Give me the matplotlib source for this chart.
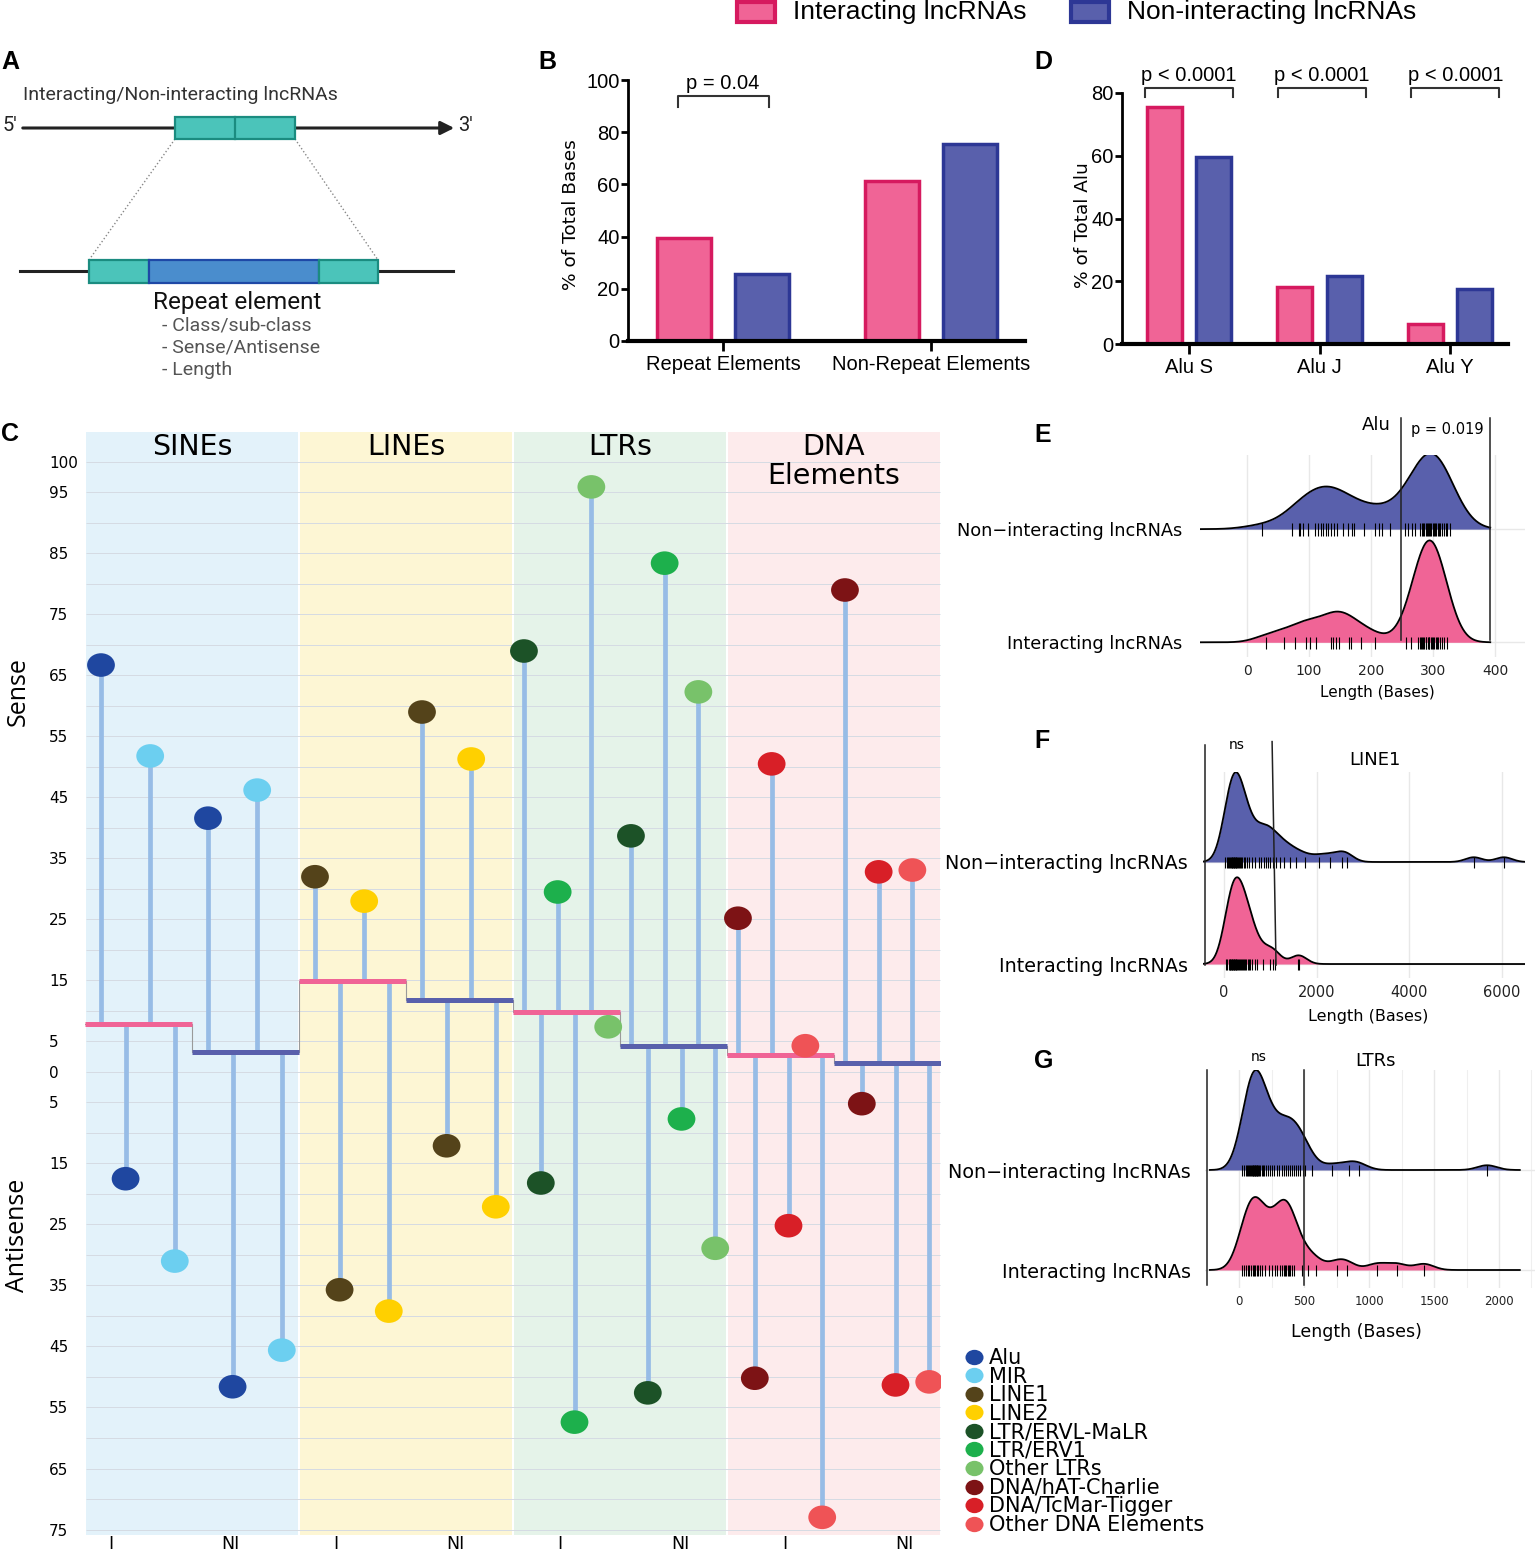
import numpy as np
import matplotlib
matplotlib.use("Agg")
import matplotlib.pyplot as plt
from matplotlib.patches import Rectangle
from matplotlib.lines import Line2D
from matplotlib.path import Path
from matplotlib.transforms import Affine2D

# ---------------- data ----------------
GROUPS = ["Interacting lncRNAs", "Non-interacting lncRNAs"]

B_CATS = ["Repeat Elements", "Non-Repeat Elements"]
B_INTER = [39.5, 61.3]
B_NONINTER = [25.7, 75.5]
B_PVAL = "p = 0.04"

D_CATS = ["Alu S", "Alu J", "Alu Y"]
D_INTER = [75.5, 18.2, 6.4]
D_NONINTER = [59.6, 21.7, 17.5]
D_PVALS = ["p < 0.0001", "p < 0.0001", "p < 0.0001"]

C_CLASSES = ["SINEs", "LINEs", "LTRs", "DNA\nElements"]
C_TYPES = [["Alu", "MIR"], ["LINE1", "LINE2"],
           ["LTR/ERVL-MaLR", "LTR/ERV1", "Other LTRs"],
           ["DNA/hAT-Charlie", "DNA/TcMar-Tigger", "Other DNA Elements"]]
C_TYPE_COLORS = [["#1f47a0", "#6ccff0"], ["#54431a", "#ffd000"],
                 ["#1c5227", "#1db04c", "#78c26a"],
                 ["#7d1315", "#d81f27", "#ef5356"]]
C_BASE_I = [7.9, 14.9, 9.8, 2.8]
C_BASE_NI = [3.3, 11.8, 4.3, 1.5]
C_SENSE_I = [[66.7, 51.8], [32.0, 28.0], [69.0, 29.5, 95.9], [25.2, 50.5, 4.3]]
C_ANTI_I = [[-17.5, -31.0], [-35.7, -39.2], [-18.2, -57.4, 7.4], [-50.2, -25.2, -73.0]]
C_SENSE_NI = [[41.6, 46.2], [59.0, 51.3], [38.7, 83.4, 62.3], [79.0, 32.8, 33.1]]
C_ANTI_NI = [[-51.6, -45.6], [-12.1, -22.1], [-52.6, -7.7, -28.9], [-5.2, -51.3, -50.8]]
C_TICKS = [100, 95, 85, 75, 65, 55, 45, 35, 25, 15, 5, 0,
           -5, -15, -25, -35, -45, -55, -65, -75]

# rug values (lengths in bases) for ridge plots
E_INTER = [31, 60, 77, 95, 102, 111, 135, 138, 143, 149, 164, 168, 184, 206,
           257, 265, 276, 278, 280, 282, 284, 286, 288, 289, 291, 293, 294, 296,
           298, 300, 302, 304, 306, 308, 311, 314, 318, 322]
E_NONINTER = [24, 72, 83, 85, 90, 98, 109, 115, 119, 123, 127, 131, 135, 140,
              145, 155, 163, 169, 172, 188, 207, 212, 217, 231, 255, 260, 266,
              271, 279, 282, 284, 286, 288, 290, 291, 293, 295, 297, 299, 301,
              303, 305, 307, 309, 311, 314, 317, 320, 323, 327]
F_INTER = [40, 70, 100, 120, 135, 150, 165, 180, 195, 210, 225, 240, 255, 270,
           290, 310, 330, 350, 370, 390, 410, 435, 460, 485, 510, 540, 570, 610,
           660, 720, 850, 1000, 1050, 1100, 1600, 1630]
F_NONINTER = [30, 60, 90, 110, 130, 150, 165, 180, 195, 210, 225, 240, 255, 270,
              290, 310, 330, 350, 375, 400, 430, 460, 500, 550, 610, 680, 750,
              810, 860, 900, 950, 1000, 1060, 1130, 1220, 1300, 1420, 1550, 1750,
              2050, 2300, 2550, 2650, 5400, 6050]
G_INTER = [20, 35, 50, 65, 80, 95, 105, 115, 125, 135, 145, 160, 175, 200, 230,
           255, 275, 295, 315, 330, 345, 355, 365, 375, 385, 395, 405, 420,
           482, 533, 590, 751, 828, 1059, 1213, 1423]
G_NONINTER = [20, 35, 50, 60, 70, 80, 88, 95, 100, 105, 110, 115, 120, 125, 130,
              135, 140, 148, 156, 165, 175, 185, 195, 210, 225, 240, 255, 270,
              290, 310, 330, 345, 360, 375, 390, 405, 420, 435, 450, 470, 490,
              508, 559, 717, 846, 923, 1908]

# ---------------- style ----------------
PINK, PINK_EDGE = "#f06496", "#d61a5f"
BLUE, BLUE_EDGE = "#5960ac", "#2d3795"
STEM = "#97bce6"
BAND_COLORS = ["#e3f2fa", "#fdf6d4", "#e5f3e9", "#fdebec"]
NARROW = "Liberation Sans"

W, H = 1540, 1552
fig = plt.figure(figsize=(W / 100, H / 100), dpi=100)


def add_box(x0, y0, x1, y1):
    return fig.add_axes([x0 / W, 1 - y1 / H, (x1 - x0) / W, (y1 - y0) / H])


def ftext(x, y, s, **kw):
    return fig.text(x / W, 1 - y / H, s, **kw)


# ---------------- top legend ----------------
for x0, fc, ec, label in [(737, PINK, PINK_EDGE, GROUPS[0]), (1071, BLUE, BLUE_EDGE, GROUPS[1])]:
    fig.add_artist(Rectangle((x0 / W, 1 - 22 / H), 38 / W, 20 / H, facecolor=fc,
                             edgecolor=ec, lw=3, transform=fig.transFigure))
    ftext(x0 + 56, 12, label, fontsize=19, family=NARROW, va="center", ha="left")

# ---------------- panel letters ----------------
for lab, x, y in [("A", 1, 62), ("B", 538, 62), ("C", 1, 434), ("D", 1034, 62),
                  ("E", 1034, 435), ("F", 1034, 741), ("G", 1034, 1061)]:
    ftext(x, y, lab, fontsize=18, fontweight="bold", family="Liberation Sans",
          va="center", ha="left")

# ---------------- panel A (schematic) ----------------
axa = add_box(0, 40, 520, 400)
axa.set_xlim(0, 520)
axa.set_ylim(400, 40)
axa.axis("off")
axa.text(23, 95, "Interacting/Non-interacting lncRNAs", family="Roboto",
         fontsize=14, color="#333333", va="center")
axa.annotate("", xy=(457, 128), xytext=(20, 128),
             arrowprops=dict(arrowstyle="-|>", lw=2.2, color="#222222", mutation_scale=20))
axa.text(3, 126, "5'", family="Roboto", fontsize=14.5, va="center", color="#222222")
axa.text(458, 126, "3'", family="Roboto", fontsize=14.5, va="center", color="#222222")
axa.add_patch(Rectangle((175, 117), 120, 22, fc="#4bc4ba", ec="#1b8c80", lw=1.6, zorder=3))
axa.plot([235, 235], [117, 139], color="#1b8c80", lw=1.6, zorder=4)
axa.plot([175, 89], [139, 260], color="#888888", lw=1, ls=":")
axa.plot([295, 378], [139, 260], color="#888888", lw=1, ls=":")
axa.plot([20, 453], [271, 271], color="#222222", lw=2.2)
axa.add_patch(Rectangle((89, 260), 60, 23, fc="#4bc4ba", ec="#1b8c80", lw=1.6, zorder=3))
axa.add_patch(Rectangle((149, 260), 170, 23, fc="#4a8dcd", ec="#1e48a6", lw=1.6, zorder=3))
axa.add_patch(Rectangle((319, 260), 59, 23, fc="#4bc4ba", ec="#1b8c80", lw=1.6, zorder=3))
axa.text(237, 302, "Repeat element", family="Roboto", fontsize=17.5, ha="center",
         va="center", color="#111111")
for i, s in enumerate(["- Class/sub-class", "- Sense/Antisense", "- Length"]):
    axa.text(162, 326 + 22 * i, s, family="Roboto", fontsize=14, color="#555555", va="center")


# ---------------- bar panels B and D ----------------
def bar_panel(ax, cats, inter, noninter, off, width, ymax, yticks):
    x = np.arange(len(cats))
    ax.bar(x - off, inter, width, color=PINK, edgecolor=PINK_EDGE, lw=2.5, zorder=2)
    ax.bar(x + off, noninter, width, color=BLUE, edgecolor=BLUE_EDGE, lw=2.5, zorder=2)
    ax.set_ylim(0, ymax)
    ax.set_yticks(yticks)
    ax.set_xticks(x)
    ax.set_xticklabels(cats, family=NARROW, fontsize=14.5)
    for lab in ax.get_yticklabels():
        lab.set_family(NARROW)
        lab.set_fontsize(14.5)
    for s in ["top", "right"]:
        ax.spines[s].set_visible(False)
    ax.spines["left"].set_linewidth(2)
    ax.spines["bottom"].set_linewidth(3)
    ax.tick_params(axis="y", length=5, width=2, pad=1)
    ax.tick_params(axis="x", length=7, width=2, pad=3)
    return x


axb = add_box(628, 80, 1025, 341)
bar_panel(axb, B_CATS, B_INTER, B_NONINTER, 0.189, 0.26, 100, [0, 20, 40, 60, 80, 100])
axb.set_xlim(-0.456, 1.452)
axb.plot([-0.215, -0.215, 0.222, 0.222], [89.7, 93.9, 93.9, 89.7], color="#333333",
         lw=1.5, clip_on=False)
axb.text(0.0, 98.5, B_PVAL, ha="center", va="center", family=NARROW, fontsize=14.5)
ftext(571, 215, "% of Total Bases", rotation=90, fontsize=13.3, ha="center", va="center")

axd = add_box(1122, 93, 1508, 344)
xd = bar_panel(axd, D_CATS, D_INTER, D_NONINTER, 0.188, 0.268, 80, [0, 20, 40, 60, 80])
axd.set_xlim(-0.513, 2.444)
for xi, p in zip(xd, D_PVALS):
    c = xi + 0.02 * xi
    axd.plot([c - 0.337, c - 0.337, c + 0.337, c + 0.337], [78.7, 81.6, 81.6, 78.7],
             color="#333333", lw=1.5, clip_on=False)
    axd.text(c, 85.6, p, ha="center", va="center", family=NARROW, fontsize=14.5, clip_on=False)
ftext(1083, 225, "% of Total Alu", rotation=90, fontsize=13.3, ha="center", va="center")

# ---------------- panel C (lollipops) ----------------
ELLIPSE = Path.unit_circle().transformed(Affine2D().scale(1.0, 0.85))
axc = add_box(85, 432, 941, 1535)
axc.set_xlim(0, 4)
axc.set_ylim(-75.9, 104.9)
for k in range(4):
    axc.axvspan(k + 0.007, k + 1 - 0.007, color=BAND_COLORS[k], lw=0, zorder=0)
axc.hlines(np.arange(-75, 101, 5), 0.007, 3.993, color="#d5dbe3", lw=0.7, zorder=1)

step_x, step_y = [], []
for k in range(4):
    for h, base in enumerate([C_BASE_I[k], C_BASE_NI[k]]):
        step_x += [k + 0.5 * h, k + 0.5 * h + 0.5]
        step_y += [base, base]
axc.plot(step_x, step_y, color="#9a9a9a", lw=0.8, zorder=2)

for k in range(4):
    halves = [(C_BASE_I[k], C_SENSE_I[k], C_ANTI_I[k], PINK),
              (C_BASE_NI[k], C_SENSE_NI[k], C_ANTI_NI[k], BLUE)]
    for h, (base, sense, anti, lc) in enumerate(halves):
        x0 = k + 0.5 * h
        tips = [v for pair in zip(sense, anti) for v in pair]
        cols = [c for c in C_TYPE_COLORS[k] for _ in (0, 1)]
        n = len(tips)
        xs = x0 + 0.5 * (np.arange(n) + 0.65) / (n + 0.35)
        axc.vlines(xs, base, tips, color=STEM, lw=3.4, zorder=3)
        axc.hlines(base, x0, x0 + 0.5, color=lc, lw=3.6, zorder=4)
        axc.scatter(xs, tips, marker=ELLIPSE, s=400, c=cols, lw=0, zorder=5)
    axc.text(k + 0.5, 102.5 if k < 3 else 100.1, C_CLASSES[k], ha="center", va="center",
             fontsize=20.5, linespacing=1.02)

axc.set_yticks(C_TICKS)
axc.set_yticklabels([str(abs(t)) for t in C_TICKS], ha="left", fontsize=11)
axc.tick_params(axis="y", length=0, pad=26)
xt = []
for k in range(4):
    xt += [0.12 + 1.05 * k, 0.68 + 1.05 * k]
axc.set_xticks(xt)
axc.set_xticklabels(["I", "NI"] * 4, fontsize=12.5)
axc.tick_params(axis="x", length=0, pad=0)
for s in axc.spines.values():
    s.set_visible(False)
ftext(18, 692, "Sense", rotation=90, fontsize=18, ha="center", va="center", family="Open Sans")
ftext(18, 1235, "Antisense", rotation=90, fontsize=18, ha="center", va="center", family="Open Sans")

handles = [Line2D([], [], marker=ELLIPSE, ls="", markersize=13, color=c, mew=0)
           for cl in C_TYPE_COLORS for c in cl]
labels = [t for tl in C_TYPES for t in tl]
fig.legend(handles, labels, loc="upper left", bbox_to_anchor=(964 / W, 1 - 1348 / H),
           frameon=False, fontsize=15, labelspacing=-0.07, handletextpad=0.2,
           handlelength=1.0, borderpad=0, borderaxespad=0)


# ---------------- ridge panels E, F, G ----------------
def ridge_panel(ax, inter, noninter, grid, bws, heights, xticks, xlim, ylim, tsize, ysize, ypad):
    for base, vals, color, bw, hgt in [(1, noninter, BLUE, bws[1], heights[1]),
                                       (0, inter, PINK, bws[0], heights[0])]:
        v = np.asarray(vals, float)
        dens = np.exp(-0.5 * ((grid[:, None] - v[None, :]) / bw) ** 2).sum(axis=1)
        y = base + hgt * dens / dens.max()
        ax.fill_between(grid, base, y, color=color, lw=0, zorder=2)
        ax.plot(grid, y, color="black", lw=1.3, zorder=3)
        ax.vlines(v, base - 0.06, base + 0.05, color="black", lw=0.8, zorder=4)
    ax.set_xlim(*xlim)
    ax.set_ylim(*ylim)
    ax.set_xticks(xticks)
    ax.set_yticks([0, 1])
    ax.set_yticklabels(["Interacting lncRNAs", "Non\u2212interacting lncRNAs"], fontsize=ysize)
    ax.tick_params(axis="y", length=0, pad=ypad)
    ax.tick_params(axis="x", length=0, pad=5, labelsize=tsize, labelcolor="#222222")
    ax.grid(True, color="#e8e8e8", lw=1, zorder=0)
    ax.set_axisbelow(True)
    for s in ax.spines.values():
        s.set_visible(False)


axe = add_box(1200, 455, 1525, 657)
ridge_panel(axe, E_INTER, E_NONINTER, np.linspace(-75, 392, 500), (22, 30), (0.90, 0.67),
            [0, 100, 200, 300, 400], (-75.8, 448), (-0.13, 1.655), 10, 12.8, 13)
axe.plot([248, 248], [0.02, 1.98], color="#222222", lw=1.1, clip_on=False, zorder=5)
axe.plot([391, 391], [0.02, 1.98], color="#222222", lw=1.1, clip_on=False, zorder=5)
axe.text(208, 1.92, "Alu", fontsize=13, ha="center", va="center")
axe.text(323, 1.88, "p = 0.019", fontsize=10.5, ha="center", va="center")
ftext(1377, 693, "Length (Bases)", fontsize=11, ha="center", va="center")

axf = add_box(1203, 772, 1525, 978)
ridge_panel(axf, F_INTER, F_NONINTER, np.linspace(-450, 6500, 900), (170, 180), (0.85, 0.88),
            [0, 2000, 4000, 6000], (-454, 6508), (-0.137, 1.882), 10.5, 13.8, 11)
axf.plot([-400, -400], [-0.01, 2.15], color="#222222", lw=1.1, clip_on=False, zorder=5)
axf.plot([1040, 1125], [2.18, -0.01], color="#222222", lw=1.1, clip_on=False, zorder=5)
axf.text(281, 2.15, "ns", fontsize=10, ha="center", va="center")
axf.text(3265, 2.0, "LINE1", fontsize=13, ha="center", va="center")
ftext(1368, 1016, "Length (Bases)", fontsize=11.5, ha="center", va="center")

axg = add_box(1205, 1070, 1535, 1288)
ridge_panel(axg, G_INTER, G_NONINTER, np.linspace(-225, 2160, 700), (75, 75), (0.73, 1.0),
            [0, 500, 1000, 1500, 2000], (-262, 2277), (-0.18, 2.0), 8.5, 13.8, 10)
axg.set_xticks([250, 750, 1250, 1750, 2250], minor=True)
axg.grid(True, which="minor", axis="x", color="#efefef", lw=0.8)
axg.tick_params(which="minor", length=0)
axg.plot([-246, -246], [-0.15, 2.0], color="#222222", lw=1.1, clip_on=False, zorder=5)
axg.plot([500, 500], [-0.15, 2.0], color="#222222", lw=1.1, clip_on=False, zorder=5)
axg.text(154, 2.13, "ns", fontsize=10, ha="center", va="center")
axg.text(1046, 2.09, "LTRs", fontsize=13, ha="center", va="center")
ftext(1356, 1332, "Length (Bases)", fontsize=12.5, ha="center", va="center")

fig.savefig("out.png", dpi=100)
